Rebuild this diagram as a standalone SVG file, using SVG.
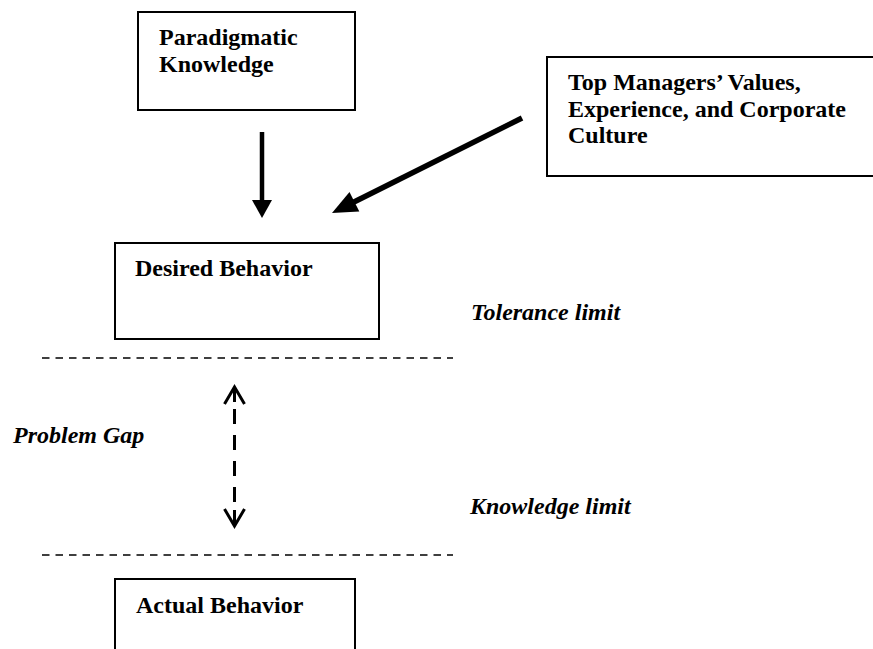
<svg xmlns="http://www.w3.org/2000/svg" width="873" height="649" viewBox="0 0 873 649">
<style>
.box{fill:#fff;stroke:#000;stroke-width:2}
.t{font-family:'Liberation Serif','Times New Roman',serif;font-weight:bold;font-size:24px;fill:#000}
.it{font-style:italic}
.dash{stroke:#000;stroke-width:1.5;stroke-dasharray:7.5 6;fill:none}
.gap{stroke:#000;stroke-width:3;fill:none}
</style>
<rect width="873" height="649" fill="#fff"/>
<g id="connectors">
<line x1="262" y1="132" x2="262" y2="202" stroke="#000" stroke-width="4.5"/>
<polygon points="252,200 272,200 262,218" fill="#000"/>
<line x1="522" y1="118" x2="352" y2="203" stroke="#000" stroke-width="5.5"/>
<polygon points="332,213 349.5,192 359.3,211.6" fill="#000"/>
<line class="gap" x1="234.5" y1="388" x2="234.5" y2="402"/>
<line class="gap" x1="234.5" y1="409" x2="234.5" y2="503" stroke-dasharray="15 11"/>
<line class="gap" x1="234.5" y1="510" x2="234.5" y2="525"/>
<polyline class="gap" points="224.5,404 234.5,387 244.5,404"/>
<polyline class="gap" points="224.5,509 234.5,526 244.5,509"/>
</g>
<g id="limits">
<line class="dash" x1="42" y1="358" x2="453" y2="358"/>
<line class="dash" x1="42" y1="555" x2="453" y2="555"/>
</g>
<g id="paradigmatic">
<rect class="box" x="138" y="12" width="217" height="98"/>
<text class="t" x="159" y="45">Paradigmatic</text>
<text class="t" x="159" y="72">Knowledge</text>
</g>
<g id="top-managers">
<rect class="box" x="547" y="57" width="340" height="119"/>
<text class="t" x="568" y="90">Top Managers’ Values,</text>
<text class="t" x="568" y="117">Experience, and Corporate</text>
<text class="t" x="568" y="143">Culture</text>
</g>
<g id="desired">
<rect class="box" x="115" y="243" width="264" height="96"/>
<text class="t" x="135" y="276">Desired Behavior</text>
</g>
<g id="actual">
<rect class="box" x="115" y="579" width="240" height="90"/>
<text class="t" x="136" y="613">Actual Behavior</text>
</g>
<g id="labels">
<text class="t it" x="471" y="320">Tolerance limit</text>
<text class="t it" x="13" y="443">Problem Gap</text>
<text class="t it" x="470" y="514">Knowledge limit</text>
</g>
</svg>
